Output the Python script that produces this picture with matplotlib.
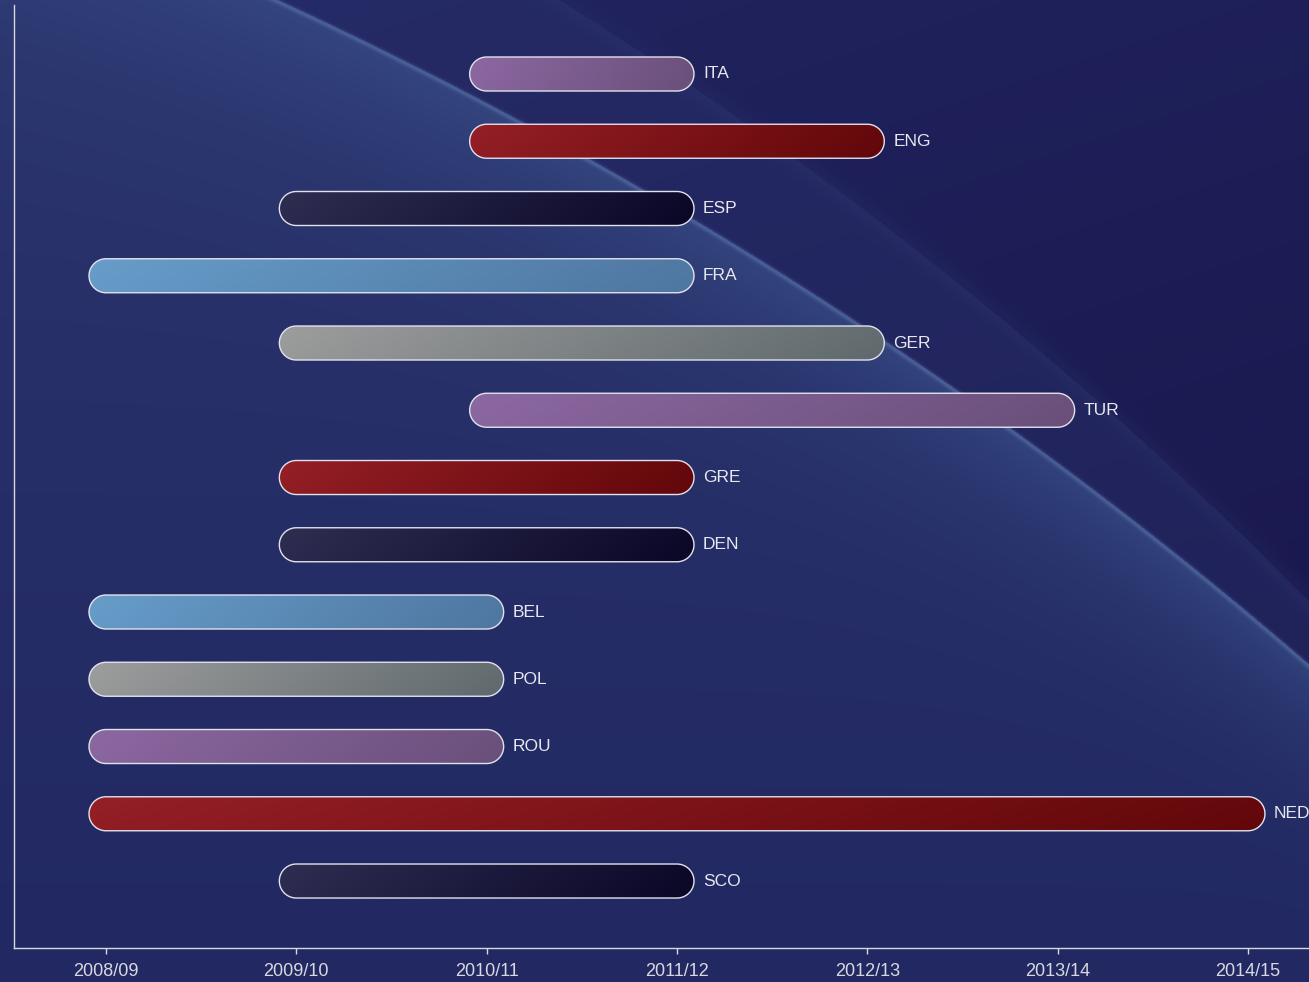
import matplotlib
matplotlib.use("Agg")
import matplotlib.pyplot as plt
import numpy as np
from matplotlib.path import Path
from matplotlib.patches import PathPatch

plt.rcParams['font.family'] = ['Liberation Sans', 'DejaVu Sans']

# data
seasons = ['2008/09', '2009/10', '2010/11', '2011/12', '2012/13', '2013/14', '2014/15']
countries = ['ITA', 'ENG', 'ESP', 'FRA', 'GER', 'TUR', 'GRE', 'DEN', 'BEL', 'POL', 'ROU', 'NED', 'SCO']
first_season = ['2010/11', '2010/11', '2009/10', '2008/09', '2009/10', '2010/11', '2009/10',
                '2009/10', '2008/09', '2008/09', '2008/09', '2008/09', '2009/10']
last_season = ['2011/12', '2012/13', '2011/12', '2011/12', '2012/13', '2013/14', '2011/12',
               '2011/12', '2010/11', '2010/11', '2010/11', '2014/15', '2011/12']

# gradient colours (left -> right), cycling from the bottom bar up
palette = [
    ('#2e2e52', '#0a0626'),  # navy
    ('#951f26', '#62070a'),  # red
    ('#8c68a2', '#6a4f7a'),  # purple
    ('#9d9d9d', '#5f696d'),  # gray
    ('#679dca', '#4e76a0'),  # blue
]

W, H = 1309, 982
fig = plt.figure(figsize=(W / 100, H / 100), dpi=100)


def rgb(h):
    return np.array([int(h[i:i + 2], 16) / 255 for i in (1, 3, 5)])


# ---- background ----
bg = fig.add_axes([0, 0, 1, 1])
bg.set_axis_off()
yy, xx = np.mgrid[0:H, 0:W].astype(float)
cx, cy, r = -1558.0, 3981.0, 4384.0
d = np.hypot(xx - cx, yy - cy) - r  # >0 outside (top-right)
fy = (yy / H)[..., None]

base_in = rgb('#2a336c') * (1 - fy) + rgb('#222962') * fy
fo = np.clip(xx / W * 0.4 + yy / H * 0.9, 0, 1)[..., None]
base_out = rgb('#212560') * (1 - fo) + rgb('#1a184e') * fo
img = np.where((d < 0)[..., None], base_in, base_out)

# band between main rim and the faint outer line
outer = 35 + 90 * np.clip(1 - yy / 700, 0, 1)
band = np.where((d > 0) & (d < outer), 1.0, 0.0) * 0.3
band = band + np.exp(-((d - outer) / 10.0) ** 2) * 0.15
img = img * (1 - band[..., None]) + rgb('#2f3a76') * band[..., None]

# inner glow along the rim
wid = 35 + 80 * (1 - yy / H)
g_in = np.where(d < 0, np.exp(d / wid), 0.0) * 0.5
img = img * (1 - g_in[..., None]) + rgb('#3e5892') * g_in[..., None]

# sharp rim
rim = np.exp(-((d + 1.5) / 2.5) ** 2) * 0.4
img = img * (1 - rim[..., None]) + rgb('#6a86bb') * rim[..., None]

bg.imshow(np.clip(img, 0, 1), extent=(0, 1, 0, 1), aspect='auto', zorder=0)
bg.set_xlim(0, 1)
bg.set_ylim(0, 1)

# ---- main axes ----
ax = fig.add_axes([14 / W, 34 / H, (W - 14) / W, (H - 34 - 5) / H])
ax.patch.set_alpha(0)
ax.set_xlim(-0.4834, 6.3207)
ax.set_ylim(12.996, -1.026)

p0 = ax.transData.transform([(0, 0)])[0]
p1 = ax.transData.transform([(1, 1)])[0]
px_x = abs(p1[0] - p0[0])
px_y = abs(p1[1] - p0[1])
rad = 17.0
rx, ry = rad / px_x, rad / px_y


def capsule(x0, x1, y):
    a1 = np.linspace(-np.pi / 2, np.pi / 2, 40)
    a2 = np.linspace(np.pi / 2, 3 * np.pi / 2, 40)
    pts = np.concatenate([
        np.column_stack([x1 + rx * np.cos(a1), y + ry * np.sin(a1)]),
        np.column_stack([x0 + rx * np.cos(a2), y + ry * np.sin(a2)]),
    ])
    pts = np.vstack([pts, pts[:1]])
    codes = [Path.MOVETO] + [Path.LINETO] * (len(pts) - 2) + [Path.CLOSEPOLY]
    return Path(pts, codes)


n = len(countries)
for i, name in enumerate(countries):
    s = seasons.index(first_season[i])
    e = seasons.index(last_season[i])
    c0, c1 = palette[(n - 1 - i) % len(palette)]
    c0, c1 = rgb(c0), rgb(c1)
    gx = np.linspace(0, 1, 200)[None, :]
    gy = np.linspace(0, 1, 20)[:, None]
    t = np.clip(gx * 0.92 + gy * 0.08, 0, 1)[..., None]
    grad = c0 * (1 - t) + c1 * t
    x0, x1 = s - rx, e + rx
    im = ax.imshow(grad, extent=(x0, x1, i + ry, i - ry), aspect='auto',
                   interpolation='bilinear', zorder=2)
    patch = PathPatch(capsule(s, e, i), facecolor='none', edgecolor='#e2e2ec',
                      lw=1.0, zorder=3)
    ax.add_patch(patch)
    im.set_clip_path(patch)
    ax.text(e + 26 / px_x, i, name, va='center', ha='left', fontsize=12.5,
            color='#e8e8f0', zorder=4)

ax.set_xlim(-0.4834, 6.3207)
ax.set_ylim(12.996, -1.026)
ax.set_xticks(range(len(seasons)))
ax.set_xticklabels(seasons)
ax.set_yticks([])
ax.tick_params(axis='x', colors='#d8d8e2', labelsize=13, length=4.5, width=1, pad=6)
for sp in ['top', 'right']:
    ax.spines[sp].set_visible(False)
for sp in ['left', 'bottom']:
    ax.spines[sp].set_color('#d8d8e2')
    ax.spines[sp].set_linewidth(1.0)

fig.savefig('out.png', dpi=100)
